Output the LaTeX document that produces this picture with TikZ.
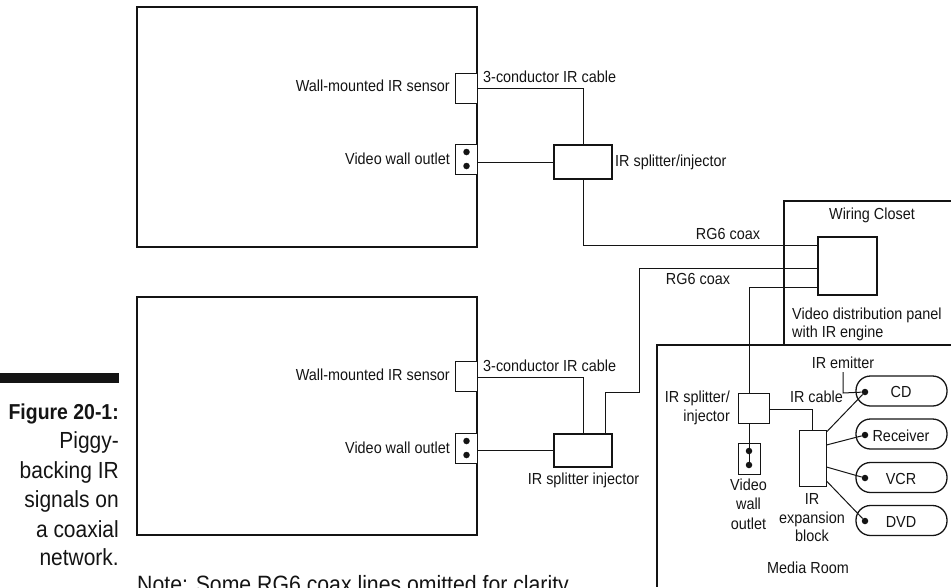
\documentclass[tikz,border=0pt]{standalone}
\usepackage{fontspec}
\setmainfont[FakeStretch=0.9]{Liberation Sans}
\definecolor{ink}{HTML}{141414}
\tikzset{
  wall/.style={draw=ink,line width=1.6pt,minimum width=0,inner sep=0,rectangle},
  part/.style={draw=ink,line width=1pt,fill=white,rectangle,inner sep=0},
  heavy/.style={draw=ink,line width=1.7pt,fill=white,rectangle,inner sep=0},
  pill/.style={draw=ink,line width=1.3pt,fill=white,rectangle,rounded corners=14.5pt,inner sep=0,minimum width=91pt,minimum height=30pt},
  wire/.style={draw=ink,line width=1pt},
  spot/.style={circle,fill=ink,inner sep=0,minimum size=6.5pt},
  lab/.style={inner sep=0,text=ink,font=\fontsize{16pt}{18pt}\selectfont},
  captext/.style={inner sep=0,text=ink,anchor=base east,font=\fontsize{23.3pt}{29pt}\selectfont},
}
\begin{document}
\begin{tikzpicture}[x=1pt,y=-1pt]
\useasboundingbox (0,0) rectangle (951,587);
% rooms
\node[wall,minimum width=340pt,minimum height=240pt] (roomA) at (307,127) {};
\node[wall,minimum width=340pt,minimum height=238pt] (roomB) at (307,416) {};
% wiring closet and media room, open on the right
\coordinate (closetNE) at (951,201);
\coordinate (closetNW) at (784,201);
\coordinate (closetSW) at (784,345);
\coordinate (closetSE) at (951,345);
\coordinate (mediaNW) at (657,345);
\coordinate (mediaSW) at (657,587);
\draw[draw=ink,line width=1.6pt] (closetNE) -- (closetNW) -- (closetSW) -- (closetSE);
\draw[draw=ink,line width=1.6pt] (closetSW) -- (mediaNW) -- (mediaSW);
% room A parts
\node[part,minimum width=21.5pt,minimum height=30pt] (sensorA) at (466.25,88) {};
\node[part,minimum width=21.5pt,minimum height=30pt] (outletA) at (466.25,159) {};
\node[spot] (outletA1) at (466.5,152) {};
\node[spot] (outletA2) at (466.5,166) {};
\node[heavy,minimum width=58pt,minimum height=34pt] (splitA) at (583,162) {};
% room B parts
\node[part,minimum width=21.5pt,minimum height=30pt] (sensorB) at (466.25,376.5) {};
\node[part,minimum width=21.5pt,minimum height=30pt] (outletB) at (466.25,448) {};
\node[spot] (outletB1) at (466.5,441) {};
\node[spot] (outletB2) at (466.5,455) {};
\node[heavy,minimum width=58pt,minimum height=33pt] (splitB) at (583,450.5) {};
% panel
\node[heavy,minimum width=59pt,minimum height=58pt] (panel) at (847.5,266) {};
% media parts
\node[part,minimum width=31pt,minimum height=30pt] (splitC) at (753.5,408) {};
\node[part,minimum width=22pt,minimum height=31pt] (outletC) at (749,458.5) {};
\node[spot] (outletC1) at (749,451) {};
\node[spot] (outletC2) at (749,465) {};
\node[part,minimum width=27pt,minimum height=56pt] (block) at (812.5,458) {};
\node[pill] (cd) at (901.5,391) {};
\node[pill] (rcv) at (901.5,434) {};
\node[pill] (vcr) at (901.5,477.5) {};
\node[pill] (dvd) at (901.5,520.5) {};
\node[spot] (cdS) at (865,392) {};
\node[spot] (rcvS) at (865,435) {};
\node[spot] (vcrS) at (865,478) {};
\node[spot] (dvdS) at (865,521) {};
% connectors
\coordinate (bendA) at (583,88);
\coordinate (bendA2) at (583,245);
\coordinate (bendB) at (583,377);
\coordinate (upB) at (605,392);
\coordinate (upB2) at (639,392);
\coordinate (upB3) at (639,268);
\coordinate (downC) at (749,287);
\coordinate (downC2) at (749,393);
\coordinate (cableC) at (812,409);
\coordinate (emit) at (843,372);
\coordinate (emit2) at (843,393);
\draw[wire] (roomA.east |- sensorA) -- (bendA) -- (splitA.north);
\draw[wire] (roomA.east |- splitA) -- (splitA.west);
\draw[wire] (splitA.south) -- (bendA2) -- (panel.west |- bendA2);
\draw[wire] (roomB.east |- bendB) -- (bendB) -- (splitB.north);
\draw[wire] (roomB.east |- splitB) -- (splitB.west);
\draw[wire] (upB |- splitB.north) -- (upB) -- (upB2) -- (upB3) -- (panel.west |- upB3);
\draw[wire] (panel.west |- downC) -- (downC) -- (downC2);
\draw[wire] (downC2 |- splitC.south) -- (outletC2);
\draw[wire] (splitC.east |- cableC) -- (cableC) -- (cableC |- block.north);
\draw[wire] (emit) -- (emit2) -- (cdS);
\draw[wire] (block.east |- 0,432) -- (cdS);
\draw[wire] (block.east |- 0,445) -- (rcvS);
\draw[wire] (block.east |- 0,467) -- (vcrS);
\draw[wire] (block.east |- 0,481) -- (dvdS);
% labels
\node[lab,anchor=base east] (lSensA) at (450,91) {Wall-mounted IR sensor};
\node[lab,anchor=base east] (lOutA) at (450,164) {Video wall outlet};
\node[lab,anchor=base west] (lCabA) at (483,82) {3-conductor IR cable};
\node[lab,anchor=base west] (lSplA) at (615,166) {IR splitter/injector};
\node[lab,anchor=base east] (lSensB) at (450,380) {Wall-mounted IR sensor};
\node[lab,anchor=base east] (lOutB) at (450,453) {Video wall outlet};
\node[lab,anchor=base west] (lCabB) at (483,371) {3-conductor IR cable};
\node[lab,anchor=base] (lSplB) at (583.5,484) {IR splitter injector};
\node[lab,anchor=base] (lRg1) at (728,239) {RG6 coax};
\node[lab,anchor=base] (lRg2) at (698,284) {RG6 coax};
\node[lab,anchor=base] (lClos) at (872,219) {Wiring Closet};
\node[lab,anchor=base west] (lPan1) at (792,319) {Video distribution panel};
\node[lab,anchor=base west] (lPan2) at (792,337) {with IR engine};
\node[lab,anchor=base] (lEmit) at (843,368) {IR emitter};
\node[lab,anchor=base east] (lSpC1) at (730,402) {IR splitter/};
\node[lab,anchor=base east] (lSpC2) at (730,421) {injector};
\node[lab,anchor=base] (lCabC) at (816.5,402) {IR cable};
\node[lab,anchor=base] (lCD) at (901,397) {CD};
\node[lab,anchor=base] (lRcv) at (901,441) {Receiver};
\node[lab,anchor=base] (lVcr) at (901,484) {VCR};
\node[lab,anchor=base] (lDvd) at (901,527) {DVD};
\node[lab,anchor=base] (lV1) at (748.5,490) {Video};
\node[lab,anchor=base] (lV2) at (748.5,509) {wall};
\node[lab,anchor=base] (lV3) at (748.5,529) {outlet};
\node[lab,anchor=base] (lE1) at (812,504) {IR};
\node[lab,anchor=base] (lE2) at (812,523) {expansion};
\node[lab,anchor=base] (lE3) at (812,541) {block};
\node[lab,anchor=base] (lMedia) at (808,573) {Media Room};
% caption
\fill[ink] (0,373) rectangle (119,383);
\node[captext,font=\fontsize{21.6pt}{29pt}\selectfont\bfseries] (c1) at (119,419) {Figure 20-1:};
\node[captext] (c2) at (119,448) {Piggy-};
\node[captext] (c3) at (119,478) {backing IR};
\node[captext] (c4) at (119,507) {signals on};
\node[captext] (c5) at (119,537) {a coaxial};
\node[captext] (c6) at (119,565) {network.};
\node[inner sep=0,text=ink,anchor=base west,font=\fontsize{23.6pt}{26pt}\selectfont] (note) at (137,592) {Note: Some RG6 coax lines omitted for clarity.};
\end{tikzpicture}
\end{document}
